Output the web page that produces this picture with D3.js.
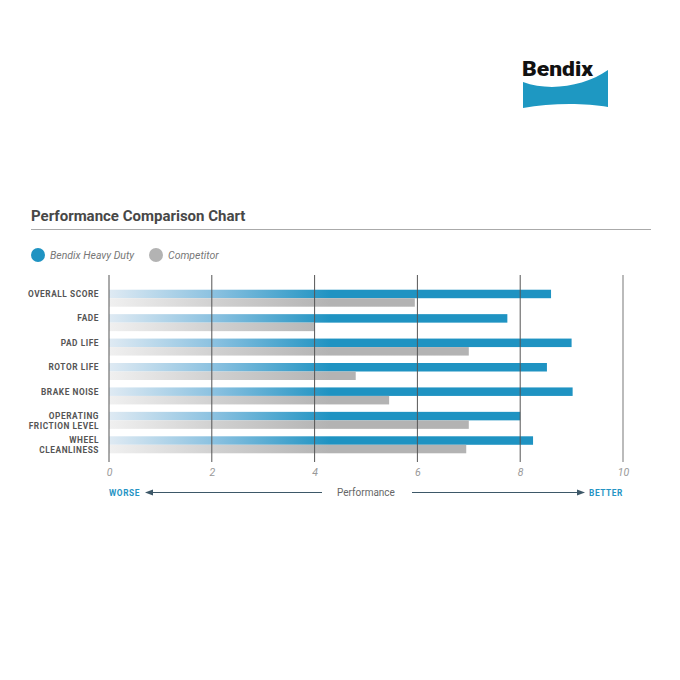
<!DOCTYPE html>
<html>
<head>
<meta charset="utf-8">
<script src="https://cdn.jsdelivr.net/npm/d3@7"></script>
<style>
  html, body { margin: 0; padding: 0; background: #fff; }
  svg { display: block; }
  text { font-family: Roboto, "Noto Sans", sans-serif; }
</style>
</head>
<body>
<svg id="chart" width="680" height="680"></svg>
<script>
const categories = [
  ["OVERALL SCORE"],
  ["FADE"],
  ["PAD LIFE"],
  ["ROTOR LIFE"],
  ["BRAKE NOISE"],
  ["OPERATING", "FRICTION LEVEL"],
  ["WHEEL", "CLEANLINESS"]
];
const bendixValues = [8.6, 7.75, 9.0, 8.52, 9.02, 8.0, 8.25];
const competitorValues = [5.95, 4.0, 7.0, 4.8, 5.45, 7.0, 6.95];
const tickValues = [0, 2, 4, 6, 8, 10];
const seriesNames = ["Bendix Heavy Duty", "Competitor"];

const svg = d3.select("#chart");
const blue = "#1f93c2";
const grey = "#b3b3b3";

const x = d3.scaleLinear().domain([0, 10]).range([109, 623]);
const y = d3.scaleBand().domain(d3.range(categories.length)).range([286, 457]).paddingInner(0).paddingOuter(0);
const barH = 8.5;

// gradients
const defs = svg.append("defs");
function grad(id, c0, c1) {
  const g = defs.append("linearGradient").attr("id", id)
    .attr("gradientUnits", "userSpaceOnUse")
    .attr("x1", x(0)).attr("x2", x(4.3)).attr("y1", 0).attr("y2", 0);
  g.append("stop").attr("offset", 0).attr("stop-color", c0);
  g.append("stop").attr("offset", 0.5).attr("stop-color", c0 === "#dfeaf3" ? "#86bfdf" : "#cfcfcf");
  g.append("stop").attr("offset", 1).attr("stop-color", c1);
}
grad("gBlue", "#dfeaf3", blue);
grad("gGrey", "#f0f0f0", grey);

// Logo
const logo = svg.append("g");
logo.append("path")
  .attr("d", "M523,82 C550,92 585,86 608,70 L608,107 C585,103 550,103 523,108 Z")
  .attr("fill", "#1e98c2");
logo.append("text").attr("x", 522).attr("y", 76)
  .attr("font-size", 21).attr("font-weight", 900).attr("fill", "#111")
  .attr("font-family", "Roboto, sans-serif")
  .attr("textLength", 71).attr("lengthAdjust", "spacingAndGlyphs")
  .text("Bendix");

// Title
svg.append("text").attr("x", 31).attr("y", 221)
  .attr("font-size", 15).attr("font-weight", 700).attr("fill", "#474747")
  .text("Performance Comparison Chart");
svg.append("line").attr("x1", 31).attr("x2", 651).attr("y1", 229.5).attr("y2", 229.5)
  .attr("stroke", "#aaa").attr("stroke-width", 1);

// Legend
const legend = svg.append("g");
const legX = [38, 156];
const legColors = [blue, grey];
seriesNames.forEach((n, i) => {
  legend.append("circle").attr("cx", legX[i]).attr("cy", 255).attr("r", 7).attr("fill", legColors[i]);
  legend.append("text").attr("x", legX[i] + 12).attr("y", 259)
    .attr("font-size", 10.5).attr("font-style", "italic").attr("fill", "#777").text(n);
});

// Bars
const rows = svg.append("g");
categories.forEach((c, i) => {
  const cy = y(i) + y.bandwidth() / 2;
  rows.append("rect").attr("x", x(0)).attr("y", cy - barH).attr("width", x(bendixValues[i]) - x(0))
    .attr("height", barH).attr("fill", "url(#gBlue)");
  rows.append("rect").attr("x", x(0)).attr("y", cy).attr("width", x(competitorValues[i]) - x(0))
    .attr("height", barH).attr("fill", "url(#gGrey)");
  const t = rows.append("text").attr("x", 99).attr("text-anchor", "end")
    .attr("font-size", 8.3).attr("font-weight", 700).attr("fill", "#555")
    .attr("letter-spacing", 0.55);
  c.forEach((line, j) => {
    t.append("tspan").attr("x", 99).attr("y", cy - 1.3 + j * 10).text(line);
  });
});

// Gridlines
const grid = svg.append("g");
tickValues.forEach(v => {
  grid.append("line").attr("x1", x(v)).attr("x2", x(v)).attr("y1", 275).attr("y2", 462)
    .attr("stroke", v === 10 ? "#bbb" : "#555").attr("stroke-width", v === 10 ? 2 : 1);
});

// Tick labels via axis
const axis = d3.axisBottom(x).tickValues(tickValues).tickSize(0).tickPadding(0).tickFormat(d3.format("d"));
const ax = svg.append("g").attr("transform", "translate(0,469)").call(axis);
ax.select(".domain").remove();
ax.selectAll("text").attr("font-size", 10.5).attr("font-style", "italic").attr("fill", "#999")
  .attr("font-family", "Roboto, sans-serif").attr("dy", "0.71em");

// Bottom performance row
const by = 492.5;
const bot = svg.append("g");
bot.append("text").attr("x", 109).attr("y", by + 3).attr("font-size", 8.3).attr("font-weight", 700)
  .attr("letter-spacing", 0.6).attr("fill", "#2594c4").text("WORSE");
bot.append("text").attr("x", 623).attr("y", by + 3).attr("text-anchor", "end").attr("font-size", 8.3)
  .attr("letter-spacing", 0.6).attr("font-weight", 700).attr("fill", "#2594c4").text("BETTER");
bot.append("text").attr("x", 366).attr("y", by + 3.5).attr("text-anchor", "middle").attr("font-size", 10)
  .attr("fill", "#666").text("Performance");
const arrowC = "#3d5868";
bot.append("line").attr("x1", 151).attr("x2", 322).attr("y1", by).attr("y2", by).attr("stroke", arrowC).attr("stroke-width", 1);
bot.append("path").attr("d", `M145,${by} L153,${by - 3} L153,${by + 3} Z`).attr("fill", arrowC);
bot.append("line").attr("x1", 412).attr("x2", 579).attr("y1", by).attr("y2", by).attr("stroke", arrowC).attr("stroke-width", 1);
bot.append("path").attr("d", `M585,${by} L577,${by - 3} L577,${by + 3} Z`).attr("fill", arrowC);
</script>
</body>
</html>
